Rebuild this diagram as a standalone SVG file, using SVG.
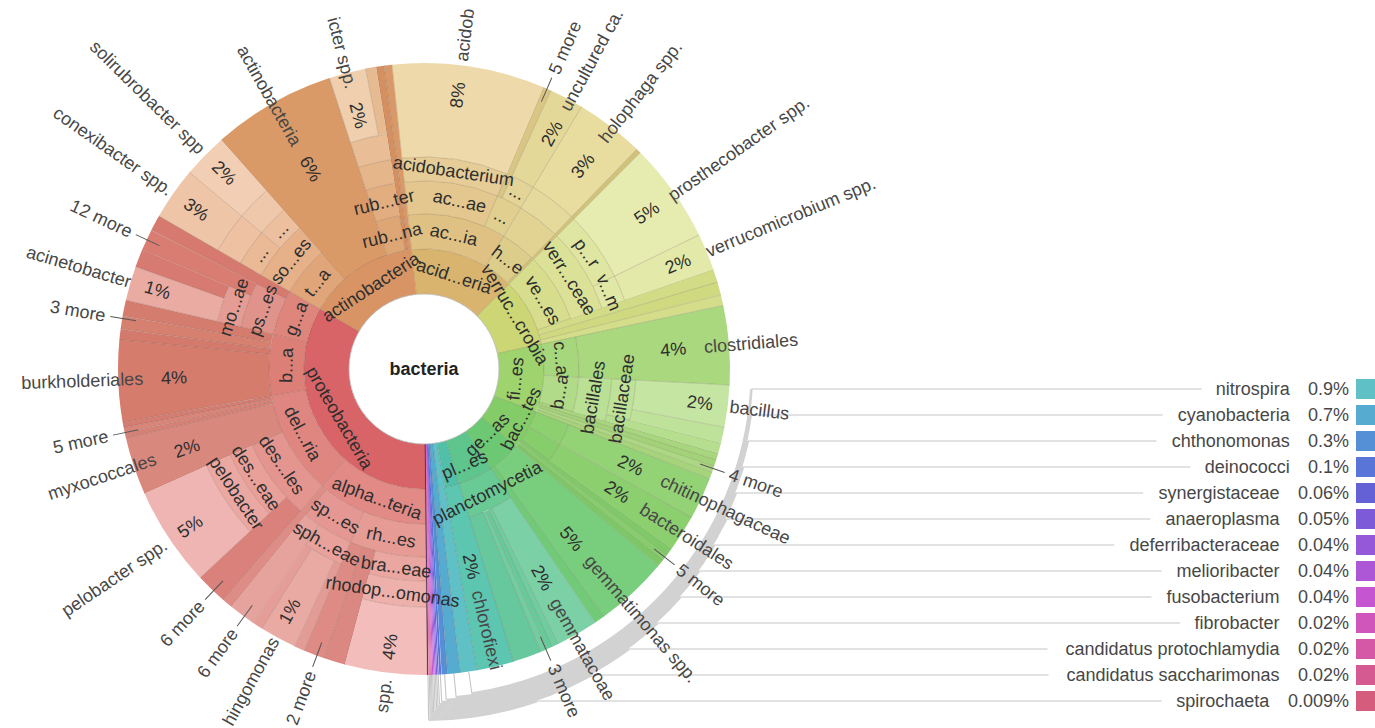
<svg xmlns="http://www.w3.org/2000/svg" width="1375" height="728" viewBox="0 0 1375 728">
<style>
text{font-family:"Liberation Sans",Arial,sans-serif;font-size:18px;fill:#2e2e2e;dominant-baseline:central}
.m{text-anchor:middle}
.e{text-anchor:end}
.o{fill:#474747}
.f{fill:none}
.bd{fill:none;stroke:rgba(70,40,20,0.22);stroke-width:0.8}
.ld{stroke:#555;stroke-width:1}
.k{fill:none;stroke:#c6c6c6;stroke-width:1.1}
.kb{fill:none;stroke:#d2d2d2;stroke-width:2.6}
.ctr{font-weight:bold;fill:#222}
</style>
<rect width="1375" height="728" fill="#fff"/>
<g id="connectors">
<line class="k" x1="751.4" y1="389" x2="1201.7" y2="389"/>
<line class="k" x1="750.7" y1="415" x2="1162.6" y2="415"/>
<line class="k" x1="747.9" y1="441" x2="1156.5" y2="441"/>
<line class="k" x1="743" y1="467" x2="1190.4" y2="467"/>
<line class="k" x1="735.8" y1="493" x2="1143.2" y2="493"/>
<line class="k" x1="726.3" y1="519" x2="1150.4" y2="519"/>
<line class="k" x1="714.2" y1="545" x2="1114.4" y2="545"/>
<line class="k" x1="699.1" y1="571" x2="1161.7" y2="571"/>
<line class="k" x1="680.5" y1="597" x2="1151.4" y2="597"/>
<line class="k" x1="657.6" y1="623" x2="1180.2" y2="623"/>
<line class="k" x1="629" y1="649" x2="1047.6" y2="649"/>
<line class="k" x1="591.6" y1="675" x2="1048.6" y2="675"/>
<line class="k" x1="537.2" y1="701" x2="1161.7" y2="701"/>
<g transform="translate(424 369)">
<g transform="rotate(81.6)"><line class="k" x1="306" x2="328"/></g><circle class="kb" r="328" pathLength="360" stroke-dasharray="78.1 999" transform="rotate(3.5)"/>
<g transform="rotate(84.4)"><line class="k" x1="306" x2="329.9"/></g><circle class="kb" r="329.9" pathLength="360" stroke-dasharray="76.38 999" transform="rotate(8.02)"/>
<g transform="rotate(86.15)"><line class="k" x1="306" x2="331.8"/></g><circle class="kb" r="331.8" pathLength="360" stroke-dasharray="73.62 999" transform="rotate(12.53)"/>
<g transform="rotate(86.95)"><line class="k" x1="306" x2="333.7"/></g><circle class="kb" r="333.7" pathLength="360" stroke-dasharray="69.87 999" transform="rotate(17.08)"/>
<g transform="rotate(87.35)"><line class="k" x1="306" x2="335.6"/></g><circle class="kb" r="335.6" pathLength="360" stroke-dasharray="65.67 999" transform="rotate(21.68)"/>
<g transform="rotate(87.63)"><line class="k" x1="306" x2="337.5"/></g><circle class="kb" r="337.5" pathLength="360" stroke-dasharray="61.24 999" transform="rotate(26.39)"/>
<g transform="rotate(87.88)"><line class="k" x1="306" x2="339.4"/></g><circle class="kb" r="339.4" pathLength="360" stroke-dasharray="56.64 999" transform="rotate(31.24)"/>
<g transform="rotate(88.13)"><line class="k" x1="306" x2="341.3"/></g><circle class="kb" r="341.3" pathLength="360" stroke-dasharray="51.84 999" transform="rotate(36.29)"/>
<g transform="rotate(88.38)"><line class="k" x1="306" x2="343.2"/></g><circle class="kb" r="343.2" pathLength="360" stroke-dasharray="46.75 999" transform="rotate(41.63)"/>
<g transform="rotate(88.6)"><line class="k" x1="306" x2="345.1"/></g><circle class="kb" r="345.1" pathLength="360" stroke-dasharray="41.2 999" transform="rotate(47.4)"/>
<g transform="rotate(88.8)"><line class="k" x1="306" x2="347"/></g><circle class="kb" r="347" pathLength="360" stroke-dasharray="35 999" transform="rotate(53.8)"/>
<g transform="rotate(89)"><line class="k" x1="306" x2="348.9"/></g><circle class="kb" r="348.9" pathLength="360" stroke-dasharray="27.71 999" transform="rotate(61.29)"/>
<g transform="rotate(89.25)"><line class="k" x1="306" x2="350.8"/></g><circle class="kb" r="350.8" pathLength="360" stroke-dasharray="18.08 999" transform="rotate(71.17)"/>
</g>
</g>
<g id="chart" transform="translate(424 369)">
<g id="acidobacteria">
<g transform="rotate(264)"><circle class="f" r="97.5" stroke-width="45" stroke="#d8b46e" pathLength="360" stroke-dasharray="51 999"/><line class="bd" x1="75" x2="120"/></g>
<g transform="rotate(264)"><circle class="f" r="137.5" stroke-width="35" stroke="#dfc183" pathLength="360" stroke-dasharray="37 999"/><circle class="bd" r="120" pathLength="360" stroke-dasharray="37 999"/><line class="bd" x1="120" x2="155"/></g>
<g transform="rotate(301)"><circle class="f" r="137.5" stroke-width="35" stroke="#dccd8a" pathLength="360" stroke-dasharray="13 999"/><circle class="bd" r="120" pathLength="360" stroke-dasharray="13 999"/><line class="bd" x1="120" x2="155"/></g>
<g transform="rotate(314)"><circle class="f" r="213" stroke-width="186" stroke="#d1c27a" pathLength="360" stroke-dasharray="1 999"/><line class="bd" x1="120" x2="306"/></g>
<g transform="rotate(264)"><circle class="f" r="171.5" stroke-width="33" stroke="#e3c78f" pathLength="360" stroke-dasharray="29 999"/><circle class="bd" r="155" pathLength="360" stroke-dasharray="29 999"/><line class="bd" x1="155" x2="188"/></g>
<g transform="rotate(293)"><circle class="f" r="171.5" stroke-width="33" stroke="#e0cf8f" pathLength="360" stroke-dasharray="8 999"/><circle class="bd" r="155" pathLength="360" stroke-dasharray="8 999"/><line class="bd" x1="155" x2="188"/></g>
<g transform="rotate(301)"><circle class="f" r="171.5" stroke-width="33" stroke="#e2d393" pathLength="360" stroke-dasharray="13 999"/><circle class="bd" r="155" pathLength="360" stroke-dasharray="13 999"/><line class="bd" x1="155" x2="188"/></g>
<g transform="rotate(264)"><circle class="f" r="200" stroke-width="24" stroke="#e6cd98" pathLength="360" stroke-dasharray="29 999"/><circle class="bd" r="188" pathLength="360" stroke-dasharray="29 999"/><line class="bd" x1="188" x2="212"/></g>
<g transform="rotate(293)"><circle class="f" r="247" stroke-width="118" stroke="#d9c684" pathLength="360" stroke-dasharray="1.5 999"/><circle class="bd" r="188" pathLength="360" stroke-dasharray="1.5 999"/><line class="bd" x1="188" x2="306"/></g>
<g transform="rotate(294.5)"><circle class="f" r="200" stroke-width="24" stroke="#e3d497" pathLength="360" stroke-dasharray="6.5 999"/><circle class="bd" r="188" pathLength="360" stroke-dasharray="6.5 999"/><line class="bd" x1="188" x2="212"/></g>
<g transform="rotate(301)"><circle class="f" r="200" stroke-width="24" stroke="#e6d99c" pathLength="360" stroke-dasharray="13 999"/><circle class="bd" r="188" pathLength="360" stroke-dasharray="13 999"/><line class="bd" x1="188" x2="212"/></g>
<g transform="rotate(264)"><circle class="f" r="259" stroke-width="94" stroke="#edd9a9" pathLength="360" stroke-dasharray="29 999"/><circle class="bd" r="212" pathLength="360" stroke-dasharray="29 999"/><line class="bd" x1="212" x2="306"/></g>
<g transform="rotate(294.5)"><circle class="f" r="259" stroke-width="94" stroke="#e4d898" pathLength="360" stroke-dasharray="6.5 999"/><circle class="bd" r="212" pathLength="360" stroke-dasharray="6.5 999"/><line class="bd" x1="212" x2="306"/></g>
<g transform="rotate(301)"><circle class="f" r="259" stroke-width="94" stroke="#e8dc9f" pathLength="360" stroke-dasharray="13 999"/><circle class="bd" r="212" pathLength="360" stroke-dasharray="13 999"/><line class="bd" x1="212" x2="306"/></g>
</g>
<g id="verrucomicrobia">
<g transform="rotate(-45)"><circle class="f" r="97.5" stroke-width="45" stroke="#ccd675" pathLength="360" stroke-dasharray="33 999"/><line class="bd" x1="75" x2="120"/></g>
<g transform="rotate(-45)"><circle class="f" r="137.5" stroke-width="35" stroke="#d6de8d" pathLength="360" stroke-dasharray="26 999"/><circle class="bd" r="120" pathLength="360" stroke-dasharray="26 999"/><line class="bd" x1="120" x2="155"/></g>
<g transform="rotate(-19)"><circle class="f" r="213" stroke-width="186" stroke="#d2dc86" pathLength="360" stroke-dasharray="2.5 999"/><circle class="bd" r="120" pathLength="360" stroke-dasharray="2.5 999"/><line class="bd" x1="120" x2="306"/></g>
<g transform="rotate(-16.5)"><circle class="f" r="213" stroke-width="186" stroke="#cfda80" pathLength="360" stroke-dasharray="2.5 999"/><circle class="bd" r="120" pathLength="360" stroke-dasharray="2.5 999"/><line class="bd" x1="120" x2="306"/></g>
<g transform="rotate(-14)"><circle class="f" r="213" stroke-width="186" stroke="#d4de8a" pathLength="360" stroke-dasharray="2 999"/><circle class="bd" r="120" pathLength="360" stroke-dasharray="2 999"/><line class="bd" x1="120" x2="306"/></g>
<g transform="rotate(-45)"><circle class="f" r="171.5" stroke-width="33" stroke="#dbe298" pathLength="360" stroke-dasharray="26 999"/><circle class="bd" r="155" pathLength="360" stroke-dasharray="26 999"/><line class="bd" x1="155" x2="188"/></g>
<g transform="rotate(-45)"><circle class="f" r="200" stroke-width="24" stroke="#dfe6a2" pathLength="360" stroke-dasharray="19 999"/><circle class="bd" r="188" pathLength="360" stroke-dasharray="19 999"/><line class="bd" x1="188" x2="212"/></g>
<g transform="rotate(-26)"><circle class="f" r="200" stroke-width="24" stroke="#e1e8a6" pathLength="360" stroke-dasharray="7 999"/><circle class="bd" r="188" pathLength="360" stroke-dasharray="7 999"/><line class="bd" x1="188" x2="212"/></g>
<g transform="rotate(-45)"><circle class="f" r="259" stroke-width="94" stroke="#e6ecb0" pathLength="360" stroke-dasharray="19 999"/><circle class="bd" r="212" pathLength="360" stroke-dasharray="19 999"/><line class="bd" x1="212" x2="306"/></g>
<g transform="rotate(-26)"><circle class="f" r="259" stroke-width="94" stroke="#e3eaa9" pathLength="360" stroke-dasharray="7 999"/><circle class="bd" r="212" pathLength="360" stroke-dasharray="7 999"/><line class="bd" x1="212" x2="306"/></g>
</g>
<g id="firmicutes">
<g transform="rotate(-12)"><circle class="f" r="97.5" stroke-width="45" stroke="#9ed36e" pathLength="360" stroke-dasharray="33 999"/><line class="bd" x1="75" x2="120"/></g>
<g transform="rotate(-12)"><circle class="f" r="137.5" stroke-width="35" stroke="#a7d77c" pathLength="360" stroke-dasharray="15 999"/><circle class="bd" r="120" pathLength="360" stroke-dasharray="15 999"/><line class="bd" x1="120" x2="155"/></g>
<g transform="rotate(3)"><circle class="f" r="137.5" stroke-width="35" stroke="#b1db88" pathLength="360" stroke-dasharray="13 999"/><circle class="bd" r="120" pathLength="360" stroke-dasharray="13 999"/><line class="bd" x1="120" x2="155"/></g>
<g transform="rotate(16)"><circle class="f" r="213" stroke-width="186" stroke="#a8d67f" pathLength="360" stroke-dasharray="1.3 999"/><circle class="bd" r="120" pathLength="360" stroke-dasharray="1.3 999"/><line class="bd" x1="120" x2="306"/></g>
<g transform="rotate(17.3)"><circle class="f" r="213" stroke-width="186" stroke="#a2d378" pathLength="360" stroke-dasharray="1.2 999"/><line class="bd" x1="120" x2="306"/></g>
<g transform="rotate(18.5)"><circle class="f" r="213" stroke-width="186" stroke="#acd883" pathLength="360" stroke-dasharray="1.2 999"/><line class="bd" x1="120" x2="306"/></g>
<g transform="rotate(19.7)"><circle class="f" r="213" stroke-width="186" stroke="#a5d47b" pathLength="360" stroke-dasharray="1.3 999"/><line class="bd" x1="120" x2="306"/></g>
<g transform="rotate(-12)"><circle class="f" r="230.5" stroke-width="151" stroke="#a9d87f" pathLength="360" stroke-dasharray="15 999"/><circle class="bd" r="155" pathLength="360" stroke-dasharray="15 999"/><line class="bd" x1="155" x2="306"/></g>
<g transform="rotate(3)"><circle class="f" r="171.5" stroke-width="33" stroke="#b9e094" pathLength="360" stroke-dasharray="13 999"/><circle class="bd" r="155" pathLength="360" stroke-dasharray="13 999"/><line class="bd" x1="155" x2="188"/></g>
<g transform="rotate(3)"><circle class="f" r="200" stroke-width="24" stroke="#bde298" pathLength="360" stroke-dasharray="11 999"/><circle class="bd" r="188" pathLength="360" stroke-dasharray="11 999"/><line class="bd" x1="188" x2="212"/></g>
<g transform="rotate(14)"><circle class="f" r="247" stroke-width="118" stroke="#b6de8f" pathLength="360" stroke-dasharray="2 999"/><circle class="bd" r="188" pathLength="360" stroke-dasharray="2 999"/><line class="bd" x1="188" x2="306"/></g>
<g transform="rotate(3)"><circle class="f" r="259" stroke-width="94" stroke="#c5e5a2" pathLength="360" stroke-dasharray="8 999"/><circle class="bd" r="212" pathLength="360" stroke-dasharray="8 999"/><line class="bd" x1="212" x2="306"/></g>
<g transform="rotate(11)"><circle class="f" r="259" stroke-width="94" stroke="#bfe29a" pathLength="360" stroke-dasharray="3 999"/><circle class="bd" r="212" pathLength="360" stroke-dasharray="3 999"/><line class="bd" x1="212" x2="306"/></g>
</g>
<g id="bacteroidetes">
<g transform="rotate(21)"><circle class="f" r="97.5" stroke-width="45" stroke="#84cc68" pathLength="360" stroke-dasharray="19 999"/><line class="bd" x1="75" x2="120"/></g>
<g transform="rotate(21)"><circle class="f" r="137.5" stroke-width="35" stroke="#8dd070" pathLength="360" stroke-dasharray="8 999"/><circle class="bd" r="120" pathLength="360" stroke-dasharray="8 999"/><line class="bd" x1="120" x2="155"/></g>
<g transform="rotate(29)"><circle class="f" r="137.5" stroke-width="35" stroke="#86cd6b" pathLength="360" stroke-dasharray="7 999"/><circle class="bd" r="120" pathLength="360" stroke-dasharray="7 999"/><line class="bd" x1="120" x2="155"/></g>
<g transform="rotate(36)"><circle class="f" r="213" stroke-width="186" stroke="#80c968" pathLength="360" stroke-dasharray="1.4 999"/><circle class="bd" r="120" pathLength="360" stroke-dasharray="1.4 999"/><line class="bd" x1="120" x2="306"/></g>
<g transform="rotate(37.4)"><circle class="f" r="213" stroke-width="186" stroke="#87cc6d" pathLength="360" stroke-dasharray="1.3 999"/><line class="bd" x1="120" x2="306"/></g>
<g transform="rotate(38.7)"><circle class="f" r="213" stroke-width="186" stroke="#7dc766" pathLength="360" stroke-dasharray="1.3 999"/><line class="bd" x1="120" x2="306"/></g>
<g transform="rotate(21)"><circle class="f" r="230.5" stroke-width="151" stroke="#93d275" pathLength="360" stroke-dasharray="8 999"/><circle class="bd" r="155" pathLength="360" stroke-dasharray="8 999"/><line class="bd" x1="155" x2="306"/></g>
<g transform="rotate(29)"><circle class="f" r="230.5" stroke-width="151" stroke="#8bcf6f" pathLength="360" stroke-dasharray="7 999"/><circle class="bd" r="155" pathLength="360" stroke-dasharray="7 999"/><line class="bd" x1="155" x2="306"/></g>
</g>
<g id="gemmatimonadetes">
<g transform="rotate(40)"><circle class="f" r="97.5" stroke-width="45" stroke="#6dc874" pathLength="360" stroke-dasharray="16 999"/><line class="bd" x1="75" x2="120"/></g>
<g transform="rotate(40)"><circle class="f" r="213" stroke-width="186" stroke="#79ce7d" pathLength="360" stroke-dasharray="14 999"/><circle class="bd" r="120" pathLength="360" stroke-dasharray="14 999"/><line class="bd" x1="120" x2="306"/></g>
<g transform="rotate(54)"><circle class="f" r="213" stroke-width="186" stroke="#70ca77" pathLength="360" stroke-dasharray="2 999"/><circle class="bd" r="120" pathLength="360" stroke-dasharray="2 999"/><line class="bd" x1="120" x2="306"/></g>
</g>
<g id="planctomycetes">
<g transform="rotate(56)"><circle class="f" r="97.5" stroke-width="45" stroke="#5ec58c" pathLength="360" stroke-dasharray="17 999"/><line class="bd" x1="75" x2="120"/></g>
<g transform="rotate(56)"><circle class="f" r="137.5" stroke-width="35" stroke="#69ca96" pathLength="360" stroke-dasharray="17 999"/><circle class="bd" r="120" pathLength="360" stroke-dasharray="17 999"/><line class="bd" x1="120" x2="155"/></g>
<g transform="rotate(56)"><circle class="f" r="230.5" stroke-width="151" stroke="#7bd1a5" pathLength="360" stroke-dasharray="8 999"/><circle class="bd" r="155" pathLength="360" stroke-dasharray="8 999"/><line class="bd" x1="155" x2="306"/></g>
<g transform="rotate(64)"><circle class="f" r="230.5" stroke-width="151" stroke="#70cd9f" pathLength="360" stroke-dasharray="1.2 999"/><circle class="bd" r="155" pathLength="360" stroke-dasharray="1.2 999"/><line class="bd" x1="155" x2="306"/></g>
<g transform="rotate(65.2)"><circle class="f" r="230.5" stroke-width="151" stroke="#68ca9a" pathLength="360" stroke-dasharray="1.2 999"/><line class="bd" x1="155" x2="306"/></g>
<g transform="rotate(66.4)"><circle class="f" r="230.5" stroke-width="151" stroke="#72cea0" pathLength="360" stroke-dasharray="1.2 999"/><line class="bd" x1="155" x2="306"/></g>
<g transform="rotate(67.6)"><circle class="f" r="230.5" stroke-width="151" stroke="#66c89c" pathLength="360" stroke-dasharray="5.4 999"/><circle class="bd" r="155" pathLength="360" stroke-dasharray="5.4 999"/><line class="bd" x1="155" x2="306"/></g>
</g>
<g id="chloroflexi">
<g transform="rotate(73)"><circle class="f" r="97.5" stroke-width="45" stroke="#50c1a8" pathLength="360" stroke-dasharray="7 999"/><line class="bd" x1="75" x2="120"/></g>
<g transform="rotate(73)"><circle class="f" r="213" stroke-width="186" stroke="#5cc6b0" pathLength="360" stroke-dasharray="7 999"/><circle class="bd" r="120" pathLength="360" stroke-dasharray="7 999"/><line class="bd" x1="120" x2="306"/></g>
</g>
<g id="minor-phyla">
<g transform="rotate(80)"><circle class="f" r="190.5" stroke-width="231" stroke="#5fc0c6" pathLength="360" stroke-dasharray="3.2 999"/><line class="bd" x1="75" x2="306"/></g>
<g transform="rotate(83.2)"><circle class="f" r="190.5" stroke-width="231" stroke="#55acd0" pathLength="360" stroke-dasharray="2.4 999"/><line class="bd" x1="75" x2="306"/></g>
<g transform="rotate(85.6)"><circle class="f" r="190.5" stroke-width="231" stroke="#5590d6" pathLength="360" stroke-dasharray="1.1 999"/><line class="bd" x1="75" x2="306"/></g>
<g transform="rotate(86.7)"><circle class="f" r="190.5" stroke-width="231" stroke="#5a75d8" pathLength="360" stroke-dasharray="0.5 999"/></g>
<g transform="rotate(87.2)"><circle class="f" r="190.5" stroke-width="231" stroke="#6460d6" pathLength="360" stroke-dasharray="0.3 999"/></g>
<g transform="rotate(87.5)"><circle class="f" r="190.5" stroke-width="231" stroke="#7c5ad8" pathLength="360" stroke-dasharray="0.25 999"/></g>
<g transform="rotate(87.75)"><circle class="f" r="190.5" stroke-width="231" stroke="#9458d8" pathLength="360" stroke-dasharray="0.25 999"/></g>
<g transform="rotate(88)"><circle class="f" r="190.5" stroke-width="231" stroke="#ad56d6" pathLength="360" stroke-dasharray="0.25 999"/></g>
<g transform="rotate(88.25)"><circle class="f" r="190.5" stroke-width="231" stroke="#c555d0" pathLength="360" stroke-dasharray="0.25 999"/></g>
<g transform="rotate(88.5)"><circle class="f" r="190.5" stroke-width="231" stroke="#d056bb" pathLength="360" stroke-dasharray="0.2 999"/></g>
<g transform="rotate(88.7)"><circle class="f" r="190.5" stroke-width="231" stroke="#d558a6" pathLength="360" stroke-dasharray="0.2 999"/></g>
<g transform="rotate(88.9)"><circle class="f" r="190.5" stroke-width="231" stroke="#d65a92" pathLength="360" stroke-dasharray="0.2 999"/></g>
<g transform="rotate(89.1)"><circle class="f" r="190.5" stroke-width="231" stroke="#d65c7e" pathLength="360" stroke-dasharray="0.3 999"/></g>
<line x1="0" y1="75" x2="0" y2="306" transform="rotate(-0.6)" stroke="#4a2a6a" stroke-width="1.6"/>
</g>
<g id="proteobacteria">
<g transform="rotate(89.4)"><circle class="f" r="97.5" stroke-width="45" stroke="#d96467" pathLength="360" stroke-dasharray="120.6 999"/><line class="bd" x1="75" x2="120"/></g>
<g transform="rotate(89.4)"><circle class="f" r="137.5" stroke-width="35" stroke="#e18a86" pathLength="360" stroke-dasharray="41.6 999"/><circle class="bd" r="120" pathLength="360" stroke-dasharray="41.6 999"/><line class="bd" x1="120" x2="155"/></g>
<g transform="rotate(131)"><circle class="f" r="137.5" stroke-width="35" stroke="#df8680" pathLength="360" stroke-dasharray="39 999"/><circle class="bd" r="120" pathLength="360" stroke-dasharray="39 999"/><line class="bd" x1="120" x2="155"/></g>
<g transform="rotate(170)"><circle class="f" r="137.5" stroke-width="35" stroke="#dc7f77" pathLength="360" stroke-dasharray="23 999"/><circle class="bd" r="120" pathLength="360" stroke-dasharray="23 999"/><line class="bd" x1="120" x2="155"/></g>
<g transform="rotate(193)"><circle class="f" r="137.5" stroke-width="35" stroke="#de857c" pathLength="360" stroke-dasharray="17 999"/><circle class="bd" r="120" pathLength="360" stroke-dasharray="17 999"/><line class="bd" x1="120" x2="155"/></g>
<g transform="rotate(89.4)"><circle class="f" r="171.5" stroke-width="33" stroke="#e69b95" pathLength="360" stroke-dasharray="23.6 999"/><circle class="bd" r="155" pathLength="360" stroke-dasharray="23.6 999"/><line class="bd" x1="155" x2="188"/></g>
<g transform="rotate(113)"><circle class="f" r="171.5" stroke-width="33" stroke="#e59893" pathLength="360" stroke-dasharray="16 999"/><circle class="bd" r="155" pathLength="360" stroke-dasharray="16 999"/><line class="bd" x1="155" x2="188"/></g>
<g transform="rotate(129)"><circle class="f" r="230.5" stroke-width="151" stroke="#de8c86" pathLength="360" stroke-dasharray="2 999"/><circle class="bd" r="155" pathLength="360" stroke-dasharray="2 999"/><line class="bd" x1="155" x2="306"/></g>
<g transform="rotate(89.4)"><circle class="f" r="200" stroke-width="24" stroke="#eaa7a1" pathLength="360" stroke-dasharray="15.6 999"/><circle class="bd" r="188" pathLength="360" stroke-dasharray="15.6 999"/><line class="bd" x1="188" x2="212"/></g>
<g transform="rotate(105)"><circle class="f" r="247" stroke-width="118" stroke="#db8882" pathLength="360" stroke-dasharray="4 999"/><circle class="bd" r="188" pathLength="360" stroke-dasharray="4 999"/><line class="bd" x1="188" x2="306"/></g>
<g transform="rotate(109)"><circle class="f" r="247" stroke-width="118" stroke="#dd8b84" pathLength="360" stroke-dasharray="4 999"/><circle class="bd" r="188" pathLength="360" stroke-dasharray="4 999"/><line class="bd" x1="188" x2="306"/></g>
<g transform="rotate(113)"><circle class="f" r="200" stroke-width="24" stroke="#e8a19b" pathLength="360" stroke-dasharray="11 999"/><circle class="bd" r="188" pathLength="360" stroke-dasharray="11 999"/><line class="bd" x1="188" x2="212"/></g>
<g transform="rotate(124)"><circle class="f" r="247" stroke-width="118" stroke="#e6a29c" pathLength="360" stroke-dasharray="5 999"/><circle class="bd" r="188" pathLength="360" stroke-dasharray="5 999"/><line class="bd" x1="188" x2="306"/></g>
<g transform="rotate(89.4)"><circle class="f" r="225" stroke-width="26" stroke="#eeb0ab" pathLength="360" stroke-dasharray="15.6 999"/><circle class="bd" r="212" pathLength="360" stroke-dasharray="15.6 999"/><line class="bd" x1="212" x2="238"/></g>
<g transform="rotate(113)"><circle class="f" r="259" stroke-width="94" stroke="#e39b95" pathLength="360" stroke-dasharray="2 999"/><circle class="bd" r="212" pathLength="360" stroke-dasharray="2 999"/><line class="bd" x1="212" x2="306"/></g>
<g transform="rotate(115)"><circle class="f" r="259" stroke-width="94" stroke="#e9aaa4" pathLength="360" stroke-dasharray="7 999"/><circle class="bd" r="212" pathLength="360" stroke-dasharray="7 999"/><line class="bd" x1="212" x2="306"/></g>
<g transform="rotate(122)"><circle class="f" r="259" stroke-width="94" stroke="#e49d97" pathLength="360" stroke-dasharray="2 999"/><circle class="bd" r="212" pathLength="360" stroke-dasharray="2 999"/><line class="bd" x1="212" x2="306"/></g>
<g transform="rotate(89.4)"><circle class="f" r="272" stroke-width="68" stroke="#f2bdbb" pathLength="360" stroke-dasharray="15.6 999"/><circle class="bd" r="238" pathLength="360" stroke-dasharray="15.6 999"/><line class="bd" x1="238" x2="306"/></g>
<g transform="rotate(131)"><circle class="f" r="171.5" stroke-width="33" stroke="#e4958f" pathLength="360" stroke-dasharray="25 999"/><circle class="bd" r="155" pathLength="360" stroke-dasharray="25 999"/><line class="bd" x1="155" x2="188"/></g>
<g transform="rotate(156)"><circle class="f" r="230.5" stroke-width="151" stroke="#d9887e" pathLength="360" stroke-dasharray="11 999"/><circle class="bd" r="155" pathLength="360" stroke-dasharray="11 999"/><line class="bd" x1="155" x2="306"/></g>
<g transform="rotate(167)"><circle class="f" r="230.5" stroke-width="151" stroke="#d68176" pathLength="360" stroke-dasharray="1 999"/><circle class="bd" r="155" pathLength="360" stroke-dasharray="3 999"/><line class="bd" x1="155" x2="306"/></g>
<g transform="rotate(168)"><circle class="f" r="230.5" stroke-width="151" stroke="#d9857a" pathLength="360" stroke-dasharray="1 999"/><line class="bd" x1="155" x2="306"/></g>
<g transform="rotate(169)"><circle class="f" r="230.5" stroke-width="151" stroke="#d47d72" pathLength="360" stroke-dasharray="1 999"/><line class="bd" x1="155" x2="306"/></g>
<g transform="rotate(131)"><circle class="f" r="247" stroke-width="118" stroke="#d9817a" pathLength="360" stroke-dasharray="6 999"/><circle class="bd" r="188" pathLength="360" stroke-dasharray="6 999"/><line class="bd" x1="188" x2="306"/></g>
<g transform="rotate(137)"><circle class="f" r="200" stroke-width="24" stroke="#e8a099" pathLength="360" stroke-dasharray="19 999"/><circle class="bd" r="188" pathLength="360" stroke-dasharray="19 999"/><line class="bd" x1="188" x2="212"/></g>
<g transform="rotate(137)"><circle class="f" r="225" stroke-width="26" stroke="#eba8a2" pathLength="360" stroke-dasharray="19 999"/><circle class="bd" r="212" pathLength="360" stroke-dasharray="19 999"/><line class="bd" x1="212" x2="238"/></g>
<g transform="rotate(137)"><circle class="f" r="272" stroke-width="68" stroke="#efb5b2" pathLength="360" stroke-dasharray="19 999"/><circle class="bd" r="238" pathLength="360" stroke-dasharray="19 999"/><line class="bd" x1="238" x2="306"/></g>
<g transform="rotate(170)"><circle class="f" r="230.5" stroke-width="151" stroke="#d57c6d" pathLength="360" stroke-dasharray="15.5 999"/><circle class="bd" r="155" pathLength="360" stroke-dasharray="15.5 999"/><line class="bd" x1="155" x2="306"/></g>
<g transform="rotate(185.5)"><circle class="f" r="230.5" stroke-width="151" stroke="#d37a6c" pathLength="360" stroke-dasharray="2 999"/><circle class="bd" r="155" pathLength="360" stroke-dasharray="7.5 999"/><line class="bd" x1="155" x2="306"/></g>
<g transform="rotate(187.5)"><circle class="f" r="230.5" stroke-width="151" stroke="#d68070" pathLength="360" stroke-dasharray="2.5 999"/><line class="bd" x1="155" x2="306"/></g>
<g transform="rotate(190)"><circle class="f" r="230.5" stroke-width="151" stroke="#d47c6e" pathLength="360" stroke-dasharray="3 999"/><line class="bd" x1="155" x2="306"/></g>
<g transform="rotate(193)"><circle class="f" r="171.5" stroke-width="33" stroke="#e0938b" pathLength="360" stroke-dasharray="14 999"/><circle class="bd" r="155" pathLength="360" stroke-dasharray="14 999"/><line class="bd" x1="155" x2="188"/></g>
<g transform="rotate(207)"><circle class="f" r="230.5" stroke-width="151" stroke="#d67a70" pathLength="360" stroke-dasharray="3 999"/><circle class="bd" r="155" pathLength="360" stroke-dasharray="3 999"/><line class="bd" x1="155" x2="306"/></g>
<g transform="rotate(193)"><circle class="f" r="200" stroke-width="24" stroke="#e49c94" pathLength="360" stroke-dasharray="10 999"/><circle class="bd" r="188" pathLength="360" stroke-dasharray="10 999"/><line class="bd" x1="188" x2="212"/></g>
<g transform="rotate(203)"><circle class="f" r="247" stroke-width="118" stroke="#d97d73" pathLength="360" stroke-dasharray="4 999"/><circle class="bd" r="188" pathLength="360" stroke-dasharray="4 999"/><line class="bd" x1="188" x2="306"/></g>
<g transform="rotate(193)"><circle class="f" r="259" stroke-width="94" stroke="#eaaba3" pathLength="360" stroke-dasharray="6.5 999"/><circle class="bd" r="212" pathLength="360" stroke-dasharray="6.5 999"/><line class="bd" x1="212" x2="306"/></g>
<g transform="rotate(199.5)"><circle class="f" r="259" stroke-width="94" stroke="#d77b72" pathLength="360" stroke-dasharray="3.5 999"/><circle class="bd" r="212" pathLength="360" stroke-dasharray="3.5 999"/><line class="bd" x1="212" x2="306"/></g>
</g>
<g id="actinobacteria">
<g transform="rotate(210)"><circle class="f" r="97.5" stroke-width="45" stroke="#d99465" pathLength="360" stroke-dasharray="54 999"/><line class="bd" x1="75" x2="120"/></g>
<g transform="rotate(210)"><circle class="f" r="137.5" stroke-width="35" stroke="#e0a679" pathLength="360" stroke-dasharray="18.5 999"/><circle class="bd" r="120" pathLength="360" stroke-dasharray="18.5 999"/><line class="bd" x1="120" x2="155"/></g>
<g transform="rotate(228.5)"><circle class="f" r="213" stroke-width="186" stroke="#da9a68" pathLength="360" stroke-dasharray="23.5 999"/><circle class="bd" r="120" pathLength="360" stroke-dasharray="23.5 999"/><line class="bd" x1="120" x2="306"/></g>
<g transform="rotate(252)"><circle class="f" r="137.5" stroke-width="35" stroke="#dea674" pathLength="360" stroke-dasharray="9 999"/><circle class="bd" r="120" pathLength="360" stroke-dasharray="9 999"/><line class="bd" x1="120" x2="155"/></g>
<g transform="rotate(261)"><circle class="f" r="213" stroke-width="186" stroke="#d49060" pathLength="360" stroke-dasharray="1.5 999"/><circle class="bd" r="120" pathLength="360" stroke-dasharray="3 999"/><line class="bd" x1="120" x2="306"/></g>
<g transform="rotate(262.5)"><circle class="f" r="213" stroke-width="186" stroke="#d99868" pathLength="360" stroke-dasharray="1.5 999"/><line class="bd" x1="120" x2="306"/></g>
<g transform="rotate(210)"><circle class="f" r="171.5" stroke-width="33" stroke="#e6b088" pathLength="360" stroke-dasharray="18.5 999"/><circle class="bd" r="155" pathLength="360" stroke-dasharray="18.5 999"/><line class="bd" x1="155" x2="188"/></g>
<g transform="rotate(252)"><circle class="f" r="171.5" stroke-width="33" stroke="#e2ad7f" pathLength="360" stroke-dasharray="9 999"/><circle class="bd" r="155" pathLength="360" stroke-dasharray="9 999"/><line class="bd" x1="155" x2="188"/></g>
<g transform="rotate(210)"><circle class="f" r="200" stroke-width="24" stroke="#eab996" pathLength="360" stroke-dasharray="10 999"/><circle class="bd" r="188" pathLength="360" stroke-dasharray="10 999"/><line class="bd" x1="188" x2="212"/></g>
<g transform="rotate(220)"><circle class="f" r="200" stroke-width="24" stroke="#ecbf9e" pathLength="360" stroke-dasharray="8.5 999"/><circle class="bd" r="188" pathLength="360" stroke-dasharray="8.5 999"/><line class="bd" x1="188" x2="212"/></g>
<g transform="rotate(252)"><circle class="f" r="200" stroke-width="24" stroke="#e6b68b" pathLength="360" stroke-dasharray="9 999"/><circle class="bd" r="188" pathLength="360" stroke-dasharray="9 999"/><line class="bd" x1="188" x2="212"/></g>
<g transform="rotate(210)"><circle class="f" r="225" stroke-width="26" stroke="#edc1a2" pathLength="360" stroke-dasharray="10 999"/><circle class="bd" r="212" pathLength="360" stroke-dasharray="10 999"/><line class="bd" x1="212" x2="238"/></g>
<g transform="rotate(220)"><circle class="f" r="225" stroke-width="26" stroke="#efc7aa" pathLength="360" stroke-dasharray="8.5 999"/><circle class="bd" r="212" pathLength="360" stroke-dasharray="8.5 999"/><line class="bd" x1="212" x2="238"/></g>
<g transform="rotate(252)"><circle class="f" r="225" stroke-width="26" stroke="#e9be96" pathLength="360" stroke-dasharray="9 999"/><circle class="bd" r="212" pathLength="360" stroke-dasharray="9 999"/><line class="bd" x1="212" x2="238"/></g>
<g transform="rotate(210)"><circle class="f" r="272" stroke-width="68" stroke="#efc5a8" pathLength="360" stroke-dasharray="10 999"/><circle class="bd" r="238" pathLength="360" stroke-dasharray="10 999"/><line class="bd" x1="238" x2="306"/></g>
<g transform="rotate(220)"><circle class="f" r="272" stroke-width="68" stroke="#f2cfb4" pathLength="360" stroke-dasharray="8.5 999"/><circle class="bd" r="238" pathLength="360" stroke-dasharray="8.5 999"/><line class="bd" x1="238" x2="306"/></g>
<g transform="rotate(252)"><circle class="f" r="272" stroke-width="68" stroke="#efcfad" pathLength="360" stroke-dasharray="7 999"/><circle class="bd" r="238" pathLength="360" stroke-dasharray="9 999"/><line class="bd" x1="238" x2="306"/></g>
<g transform="rotate(259)"><circle class="f" r="272" stroke-width="68" stroke="#e6bb92" pathLength="360" stroke-dasharray="2 999"/><line class="bd" x1="238" x2="306"/></g>
</g>
<g id="bacteria">
<circle r="75" fill="#fff" stroke="#b5b5b5" stroke-width="0.8"/>
<text class="m ctr" y="0">bacteria</text>
</g>
<g id="ring-labels">
<text class="m" transform="rotate(18)" y="-97.5">acid...eria</text>
<text class="m" transform="rotate(12.5)" y="-137.5">ac...ia</text>
<text class="m" transform="rotate(37.5)" y="-137.5">h...e</text>
<text class="m" transform="rotate(12)" y="-171.5">ac...ae</text>
<text class="m" transform="rotate(27)" y="-171.5">...</text>
<text class="m" transform="rotate(8.5)" y="-200">acidobacterium</text>
<text class="m" transform="rotate(27.75)" y="-200">...</text>
<text class="m" transform="rotate(59)" y="-106">verruc...crobia</text>
<text class="m" transform="rotate(60)" y="-137.5">ve...es</text>
<text class="m" transform="rotate(58)" y="-171.5">verr...ceae</text>
<text class="m" transform="rotate(54.5)" y="-200">p...r</text>
<text class="m" transform="rotate(67.5)" y="-200">v...m</text>
<text class="m" transform="rotate(-84)" y="92">fi...es</text>
<text class="m" transform="rotate(85.5)" y="-137.5">c...a</text>
<text class="m" transform="rotate(-80.5)" y="137.5">b...a</text>
<text class="m" transform="rotate(-80.5)" y="171.5">bacillales</text>
<text class="m" transform="rotate(-81.5)" y="200">bacillaceae</text>
<text class="m" transform="rotate(-63)" y="109">bac...tes</text>
<text class="m" transform="rotate(-44)" y="91">ge...as</text>
<text class="m" transform="rotate(-23)" y="104">pl...es</text>
<text class="m" transform="rotate(-27)" y="139">planctomycetia</text>
<text class="m" transform="rotate(60)" y="97.5">proteobacteria</text>
<text class="m" transform="rotate(20)" y="137.5">alpha...teria</text>
<text class="m" transform="rotate(62)" y="137.5">del...ria</text>
<text class="m" transform="rotate(271.5)" y="-137.5">b...a</text>
<text class="m" transform="rotate(291.5)" y="-137.5">g...a</text>
<text class="m" transform="rotate(11)" y="171.5">rh...es</text>
<text class="m" transform="rotate(31)" y="171.5">sp...es</text>
<text class="m" transform="rotate(56)" y="171.5">des...les</text>
<text class="m" transform="rotate(290)" y="-171.5">ps...es</text>
<text class="m" transform="rotate(8)" y="200">bra...eae</text>
<text class="m" transform="rotate(29)" y="200">sph...eae</text>
<text class="m" transform="rotate(57)" y="200">des...eae</text>
<text class="m" transform="rotate(288)" y="-200">mo...ae</text>
<text class="m" transform="rotate(8)" y="225">rhodop...omonas</text>
<text class="m" transform="rotate(56.5)" y="225">pelobacter</text>
<text class="m" transform="rotate(327)" y="-97.5">actinobacteria</text>
<text class="m" transform="rotate(309)" y="-137.5">t...a</text>
<text class="m" transform="rotate(346.5)" y="-137.5">rub...na</text>
<text class="m" transform="rotate(309)" y="-171.5">so...es</text>
<text class="m" transform="rotate(346.5)" y="-171.5">rub...ter</text>
<text class="m" transform="rotate(305)" y="-200">...</text>
<text class="m" transform="rotate(314)" y="-200">...</text>
</g>
<g id="leaf-labels">
<g transform="rotate(-83)"><text class="m" x="276">8%</text><text class="o" x="310">acidob</text></g>
<g transform="rotate(-61.5)"><text class="m" x="268">2%</text><text class="o" x="295">uncultured ca.</text></g>
<g transform="rotate(-52)"><text class="m" x="258">3%</text><text class="o" x="290">holophaga spp.</text></g>
<g transform="rotate(-35)"><text class="m" x="272">5%</text><text class="o" x="300">prosthecobacter spp.</text></g>
<g transform="rotate(-22.5)"><text class="m" x="275">2%</text><text class="o" x="306">verrucomicrobium spp.</text></g>
<g transform="rotate(-4.5)"><text class="m" x="250">4%</text><text class="o" x="281">clostridiales</text></g>
<g transform="rotate(7)"><text class="m" x="278">2%</text><text class="o" x="308">bacillus</text></g>
<g transform="rotate(25)"><text class="m" x="228">2%</text><text class="o" x="262">chitinophagaceae</text></g>
<g transform="rotate(32.5)"><text class="m" x="229">2%</text><text class="o" x="258">bacteroidales</text></g>
<g transform="rotate(49)"><text class="m" x="225">5%</text><text class="o" x="250">gemmatimonas spp.</text></g>
<g transform="rotate(60.5)"><text class="m" x="240">2%</text><text class="o" x="265">gemmatacoae</text></g>
<g transform="rotate(76.5)"><text class="m" x="203">2%</text><text class="o" x="228">chlorofiexi</text></g>
<g transform="rotate(277)"><text class="m" x="-280">4%</text><text class="o e" x="-312">spp.</text></g>
<g transform="rotate(299)"><text class="m" x="-277">1%</text><text class="o e" x="-308">hingomonas</text></g>
<g transform="rotate(326)"><text class="m" x="-282">5%</text><text class="o e" x="-312">pelobacter spp.</text></g>
<g transform="rotate(341.5)"><text class="m" x="-250">2%</text><text class="o e" x="-283">myxococcales</text></g>
<g transform="rotate(358)"><text class="m" x="-250">4%</text><text class="o e" x="-281">burkholderiales</text></g>
<g transform="rotate(16.5)"><text class="m" x="-278">1%</text><text class="o e" x="-306">acinetobacter</text></g>
<g transform="rotate(35)"><text class="m" x="-278">3%</text><text class="o e" x="-309">conexibacter spp.</text></g>
<g transform="rotate(44.5)"><text class="m" x="-280">2%</text><text class="o e" x="-311">solirubrobacter spp</text></g>
<g transform="rotate(60.5)"><text class="m" x="-230">6%</text><text class="o e" x="-258">actinobacteria</text></g>
<g transform="rotate(75.5)"><text class="m" x="-262">2%</text><text class="o e" x="-290">icter spp.</text></g>
</g>
<g id="more-labels">
<g transform="rotate(-66.3)"><line class="ld" x1="292" x2="318"/><text class="o" x="323">5 more</text></g>
<g transform="rotate(19)"><line class="ld" x1="292" x2="318"/><text class="o" x="323">4 more</text></g>
<g transform="rotate(38)"><line class="ld" x1="292" x2="318"/><text class="o" x="323">5 more</text></g>
<g transform="rotate(66.5)"><line class="ld" x1="292" x2="318"/><text class="o" x="323">3 more</text></g>
<g transform="rotate(290.5)"><line class="ld" x1="-292" x2="-318"/><text class="o e" x="-323">2 more</text></g>
<g transform="rotate(306)"><line class="ld" x1="-292" x2="-318"/><text class="o e" x="-323">6 more</text></g>
<g transform="rotate(313.5)"><line class="ld" x1="-292" x2="-318"/><text class="o e" x="-323">6 more</text></g>
<g transform="rotate(348)"><line class="ld" x1="-292" x2="-318"/><text class="o e" x="-323">5 more</text></g>
<g transform="rotate(9.5)"><line class="ld" x1="-292" x2="-318"/><text class="o e" x="-323">3 more</text></g>
<g transform="rotate(25)"><line class="ld" x1="-292" x2="-318"/><text class="o e" x="-323">12 more</text></g>
</g>
</g>
<g id="key-nitrospira"><text class="o e" x="1289.8" y="389">nitrospira</text><text class="o e" x="1349" y="389">0.9%</text><rect x="1356" y="379" width="20" height="20" fill="#5fc0c6"/></g>
<g id="key-cyanobacteria"><text class="o e" x="1289.8" y="415">cyanobacteria</text><text class="o e" x="1349" y="415">0.7%</text><rect x="1356" y="405" width="20" height="20" fill="#55acd0"/></g>
<g id="key-chthonomonas"><text class="o e" x="1289.8" y="441">chthonomonas</text><text class="o e" x="1349" y="441">0.3%</text><rect x="1356" y="431" width="20" height="20" fill="#5590d6"/></g>
<g id="key-deinococci"><text class="o e" x="1289.8" y="467">deinococci</text><text class="o e" x="1349" y="467">0.1%</text><rect x="1356" y="457" width="20" height="20" fill="#5a75d8"/></g>
<g id="key-synergistaceae"><text class="o e" x="1279.6" y="493">synergistaceae</text><text class="o e" x="1349" y="493">0.06%</text><rect x="1356" y="483" width="20" height="20" fill="#6460d6"/></g>
<g id="key-anaeroplasma"><text class="o e" x="1279.6" y="519">anaeroplasma</text><text class="o e" x="1349" y="519">0.05%</text><rect x="1356" y="509" width="20" height="20" fill="#7c5ad8"/></g>
<g id="key-deferribacteraceae"><text class="o e" x="1279.6" y="545">deferribacteraceae</text><text class="o e" x="1349" y="545">0.04%</text><rect x="1356" y="535" width="20" height="20" fill="#9458d8"/></g>
<g id="key-melioribacter"><text class="o e" x="1279.6" y="571">melioribacter</text><text class="o e" x="1349" y="571">0.04%</text><rect x="1356" y="561" width="20" height="20" fill="#ad56d6"/></g>
<g id="key-fusobacterium"><text class="o e" x="1279.6" y="597">fusobacterium</text><text class="o e" x="1349" y="597">0.04%</text><rect x="1356" y="587" width="20" height="20" fill="#c555d0"/></g>
<g id="key-fibrobacter"><text class="o e" x="1279.6" y="623">fibrobacter</text><text class="o e" x="1349" y="623">0.02%</text><rect x="1356" y="613" width="20" height="20" fill="#d056bb"/></g>
<g id="key-protochlamydia"><text class="o e" x="1279.6" y="649">candidatus protochlamydia</text><text class="o e" x="1349" y="649">0.02%</text><rect x="1356" y="639" width="20" height="20" fill="#d558a6"/></g>
<g id="key-saccharimonas"><text class="o e" x="1279.6" y="675">candidatus saccharimonas</text><text class="o e" x="1349" y="675">0.02%</text><rect x="1356" y="665" width="20" height="20" fill="#d65a92"/></g>
<g id="key-spirochaeta"><text class="o e" x="1269.3" y="701">spirochaeta</text><text class="o e" x="1349" y="701">0.009%</text><rect x="1356" y="691" width="20" height="20" fill="#d65c7e"/></g>
</svg>
